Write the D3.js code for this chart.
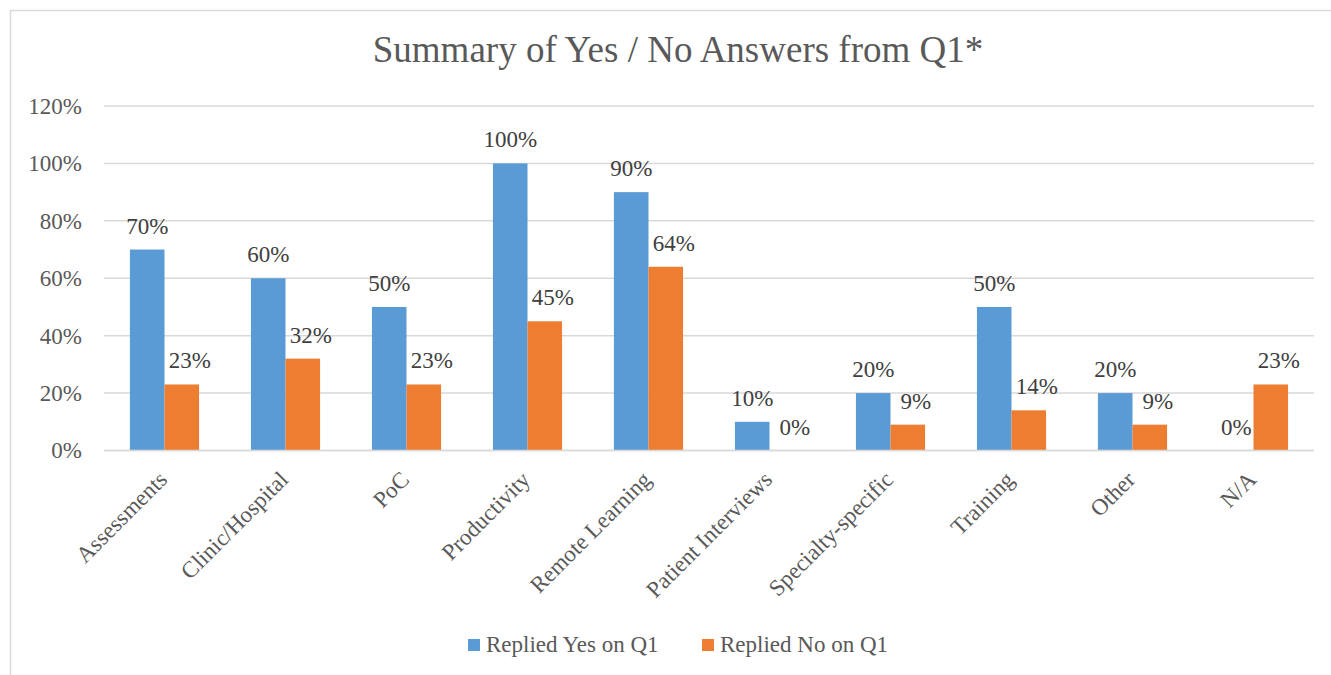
<!DOCTYPE html>
<html>
<head>
<meta charset="utf-8">
<script src="https://cdn.jsdelivr.net/npm/d3@7.9.0/dist/d3.min.js"></script>
<style>
  body { margin: 0; background: #fff; }
  svg { display: block; }
  svg text { font-family: "Liberation Serif", "Times New Roman", serif; }
</style>
</head>
<body>
<svg id="chart" width="1331" height="675"></svg>
<script>
const categories = ['Assessments', 'Clinic/Hospital', 'PoC', 'Productivity', 'Remote Learning',
  'Patient Interviews', 'Specialty-specific', 'Training', 'Other', 'N/A'];
const yesValues = [0.70, 0.60, 0.50, 1.00, 0.90, 0.10, 0.20, 0.50, 0.20, 0.00];
const noValues = [0.23, 0.32, 0.23, 0.45, 0.64, 0.00, 0.09, 0.14, 0.09, 0.23];
const seriesNames = ['Replied Yes on Q1', 'Replied No on Q1'];
const yTicks = [0, 0.2, 0.4, 0.6, 0.8, 1.0, 1.2];

const colors = ['#5b9bd5', '#ed7d31'];
const textColor = '#595959';
const gridColor = '#d9d9d9';
const serif = '"Liberation Serif", "Times New Roman", serif';

const svg = d3.select('#chart');

// chart frame, runs off the right and bottom like the original
svg.append('rect')
  .attr('x', 10.5).attr('y', 10.5)
  .attr('width', 1400).attr('height', 800)
  .attr('fill', 'none').attr('stroke', gridColor).attr('stroke-width', 1.5);

const x = d3.scaleBand().domain(categories).range([104, 1314]);
const xInner = d3.scaleBand().domain([0, 1]).range([0, x.bandwidth()]).paddingOuter(0.75).paddingInner(0);
const y = d3.scaleLinear().domain([0, 1.2]).range([450.5, 106]);

// title
svg.append('text')
  .attr('x', 678).attr('y', 62)
  .attr('text-anchor', 'middle')
  .attr('font-family', serif)
  .attr('font-size', 37)
  .attr('fill', textColor)
  .text('Summary of Yes / No Answers from Q1*');

// gridlines
svg.append('g')
  .selectAll('line')
  .data(yTicks)
  .join('line')
  .attr('x1', 104).attr('x2', 1314)
  .attr('y1', d => y(d)).attr('y2', d => y(d))
  .attr('stroke', gridColor).attr('stroke-width', 1.5);

// y axis labels
const yAxis = d3.axisLeft(y).tickValues(yTicks).tickFormat(d3.format('.0%')).tickSize(0).tickPadding(0);
svg.append('g')
  .attr('transform', 'translate(82,0)')
  .call(yAxis)
  .attr('font-family', serif)
  .call(g => g.select('.domain').remove())
  .selectAll('text')
  .attr('font-family', serif)
  .attr('font-size', 23)
  .attr('fill', textColor);

// bars
const series = [yesValues, noValues];
series.forEach((values, s) => {
  svg.append('g')
    .selectAll('rect')
    .data(values)
    .join('rect')
    .attr('x', (d, i) => x(categories[i]) + xInner(s))
    .attr('y', d => y(d))
    .attr('width', xInner.bandwidth())
    .attr('height', d => y(0) - y(d))
    .attr('fill', colors[s]);
});

// baseline
svg.append('line')
  .attr('x1', 104).attr('x2', 1314)
  .attr('y1', y(0)).attr('y2', y(0))
  .attr('stroke', gridColor).attr('stroke-width', 1.5);

// data labels
series.forEach((values, s) => {
  svg.append('g')
    .selectAll('text')
    .data(values)
    .join('text')
    .attr('x', (d, i) => x(categories[i]) + xInner(s) + xInner.bandwidth() / 2 + (s === 1 ? 8 : 0))
    .attr('y', d => y(d) - 16)
    .attr('text-anchor', 'middle')
    .attr('font-family', serif)
    .attr('font-size', 23)
    .attr('fill', '#404040')
    .text(d => d3.format('.0%')(d));
});

// category labels
svg.append('g')
  .selectAll('text')
  .data(categories)
  .join('text')
  .attr('transform', d => `translate(${x(d) + x.bandwidth() / 2 + 4},481) rotate(-45)`)
  .attr('text-anchor', 'end')
  .attr('font-family', serif)
  .attr('font-size', 23)
  .attr('fill', textColor)
  .text(d => d);

// legend
const legendX = [468, 702];
seriesNames.forEach((name, s) => {
  const g = svg.append('g').attr('transform', `translate(${legendX[s]},639)`);
  g.append('rect').attr('width', 12).attr('height', 12).attr('fill', colors[s]);
  g.append('text')
    .attr('x', 18).attr('y', 13)
    .attr('font-family', serif)
    .attr('font-size', 23)
    .attr('fill', textColor)
    .text(name);
});
</script>
</body>
</html>
